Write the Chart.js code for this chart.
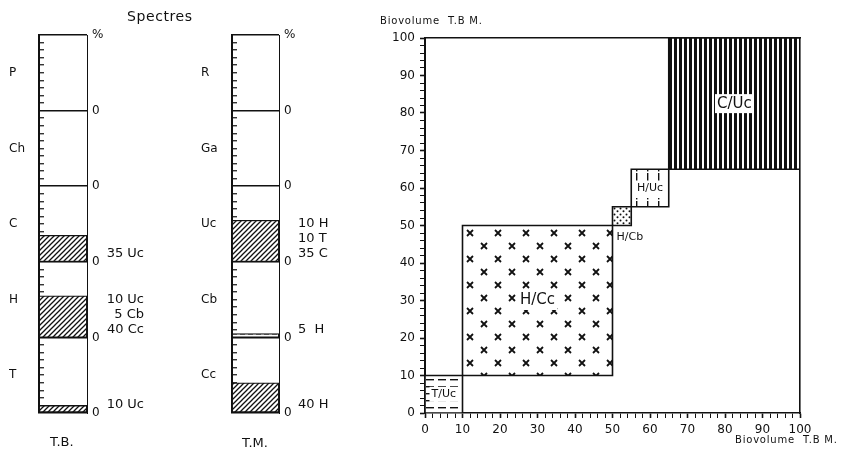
<!DOCTYPE html>
<html>
<head>
<meta charset="utf-8">
<script src="https://cdn.jsdelivr.net/npm/chart.js@4.4.1/dist/chart.umd.min.js"></script>
<style>
  html, body { margin: 0; padding: 0; background: #fff; }
  #wrap { position: relative; width: 841px; height: 462px; overflow: hidden; font-family: "DejaVu Sans", sans-serif; color: #111; }
  #wrap canvas { position: absolute; top: 0; }
  .lbl { position: absolute; white-space: nowrap; line-height: 1; }
</style>
</head>
<body>
<div id="wrap">
  <canvas id="tbChart" width="180" height="462" style="left:0"></canvas>
  <canvas id="tmChart" width="180" height="462" style="left:192px"></canvas>
  <canvas id="bioChart" width="481" height="462" style="left:360px"></canvas>
  <div class="lbl" style="left:127px;top:9px;font-size:14px;letter-spacing:0.6px">Spectres</div>
  <div class="lbl" style="left:50px;top:435px;font-size:13px">T.B.</div>
  <div class="lbl" style="left:242px;top:436px;font-size:13px">T.M.</div>
  <div class="lbl" style="left:380px;top:16px;font-size:10px;letter-spacing:0.8px">Biovolume&nbsp; T.B M.</div>
  <div class="lbl" style="left:735px;top:435px;font-size:10px;letter-spacing:0.8px">Biovolume&nbsp; T.B M.</div>
</div>
<script>
// spectra, sections listed bottom to top, share in % of each section
const tbSections = ['T', 'H', 'C', 'Ch', 'P'];
const tbShare = [10, 55, 35, 0, 0];
const tbNotes = [['10 Uc'], ['10 Uc', '5 Cb', '40 Cc'], ['35 Uc'], [], []];

const tmSections = ['Cc', 'Cb', 'Uc', 'Ga', 'R'];
const tmShare = [40, 5, 55, 0, 0];
const tmNotes = [['40 H'], ['5  H'], ['10 H', '10 T', '35 C'], [], []];

// biovolume cells (x = T.B., y = T.M.)
const cellNames = ['T/Uc', 'H/Cc', 'H/Cb', 'H/Uc', 'C/Uc'];
const tbFrom = [0, 10, 50, 55, 65];
const tbTo = [10, 50, 55, 65, 100];
const tmFrom = [0, 10, 50, 55, 65];
const tmTo = [10, 50, 55, 65, 100];
const axisTicks = [0, 10, 20, 30, 40, 50, 60, 70, 80, 90, 100];

const INK = '#111';

function makePattern(w, h, draw) {
    const c = document.createElement('canvas');
    c.width = w; c.height = h;
    const g = c.getContext('2d');
    g.fillStyle = '#fff';
    g.fillRect(0, 0, w, h);
    g.strokeStyle = INK;
    g.fillStyle = INK;
    draw(g);
    return g.createPattern(c, 'repeat');
}

const hatch = () => makePattern(5, 5, g => {
    g.lineWidth = 1.3;
    g.beginPath();
    g.moveTo(-1, 6); g.lineTo(6, -1);
    g.moveTo(-1, 1); g.lineTo(1, -1);
    g.moveTo(4, 6); g.lineTo(6, 4);
    g.stroke();
});
const dashes = () => makePattern(8, 4, g => {
    g.fillRect(0, 1, 5, 1.5);
});

// spectre columns
const notesPlugin = {
    id: 'notes',
    afterDraw(chart) {
        const opts = chart.options.plugins.notes;
        const { ctx, chartArea } = chart;
        const y = chart.scales.y;
        ctx.save();
        ctx.font = '13px "DejaVu Sans", sans-serif';
        ctx.fillStyle = INK;
        ctx.textBaseline = 'middle';
        ctx.textAlign = opts.align;
        opts.lines.forEach((lines, i) => {
            const base = y.getPixelForValue(i * 100);
            lines.forEach((t, k) => {
                const yy = base - 8 - (lines.length - 1 - k) * 15;
                ctx.fillText(t, chartArea.right + opts.offset, yy);
            });
        });
        ctx.restore();
    }
};

function spectre(id, sections, share, notes, fills, align, offset, leftWidth) {
    const datasets = sections.map((s, i) => ({
        label: s,
        data: [[i * 100, i * 100 + share[i]]],
        backgroundColor: fills[i],
        borderColor: INK,
        borderWidth: 1.3,
        borderSkipped: false,
        grouped: false,
        categoryPercentage: 1,
        barPercentage: 1
    })).filter(d => d.data[0][1] > d.data[0][0]);

    return new Chart(document.getElementById(id), {
        type: 'bar',
        data: { labels: [''], datasets: datasets },
        options: {
            responsive: false,
            animation: false,
            devicePixelRatio: 1,
            layout: { padding: { left: 9, top: 35, right: 0, bottom: 49 } },
            plugins: { legend: { display: false }, tooltip: { enabled: false }, notes: { lines: notes, align: align, offset: offset } },
            scales: {
                x: { display: false },
                y: {
                    min: 0, max: 500, position: 'left',
                    ticks: {
                        stepSize: 10, autoSkip: false, crossAlign: 'far', color: INK,
                        font: { family: 'DejaVu Sans', size: 12 },
                        callback: v => v % 100 === 50 ? sections[Math.floor(v / 100)] : ''
                    },
                    grid: {
                        color: c => c.tick && c.tick.value % 100 === 0 ? INK : 'transparent',
                        lineWidth: 1.5,
                        tickLength: -5,
                        tickWidth: 1.2,
                        tickColor: c => c.tick && c.tick.value % 100 === 0 ? 'transparent' : INK
                    },
                    border: { color: INK, width: 2 },
                    afterFit: s => { s.width = leftWidth; }
                },
                y2: {
                    min: 0, max: 500, position: 'right',
                    ticks: {
                        stepSize: 100, padding: 5, color: INK,
                        font: { family: 'DejaVu Sans', size: 12 },
                        callback: v => v === 500 ? '%' : '0'
                    },
                    grid: { drawOnChartArea: false, drawTicks: false },
                    border: { color: INK, width: 1 },
                    afterFit: s => { s.width = 93; }
                }
            }
        },
        plugins: [notesPlugin]
    });
}

spectre('tbChart', tbSections, tbShare, tbNotes, tbSections.map(() => hatch()), 'right', 57, 30);
spectre('tmChart', tmSections, tmShare, tmNotes, tmSections.map(s => s === 'Cb' ? dashes() : hatch()), 'left', 19, 31);

// biovolume cells
const cellFills = [
    makePattern(12, 7, g => { g.fillRect(1, 3, 8, 1.4); }),
    makePattern(28, 26, g => {
        g.lineWidth = 1.8;
        [[7, 7], [21, 20]].forEach(([cx, cy]) => {
            g.beginPath();
            g.moveTo(cx - 3, cy - 3); g.lineTo(cx + 3, cy + 3);
            g.moveTo(cx + 3, cy - 3); g.lineTo(cx - 3, cy + 3);
            g.stroke();
        });
    }),
    makePattern(6, 6, g => {
        g.beginPath(); g.arc(1.5, 1.5, 1, 0, Math.PI * 2); g.fill();
        g.beginPath(); g.arc(4.5, 4.2, 1, 0, Math.PI * 2); g.fill();
    }),
    makePattern(11, 14, g => {
        g.fillRect(5, 4, 1.4, 8);
        g.fillRect(5, 1, 1.4, 1.4);
    }),
    makePattern(5, 4, g => { g.fillRect(0, 0, 3, 4); })
];

const alignFills = {
    id: 'alignFills',
    beforeDatasetsDraw(chart) {
        const { x, y } = chart.scales;
        cellFills.forEach((p, i) => {
            p.setTransform(new DOMMatrix().translate(Math.round(x.getPixelForValue(tbFrom[i])), Math.round(y.getPixelForValue(tmTo[i]))));
        });
    }
};

const cellLabels = {
    id: 'cellLabels',
    afterDatasetsDraw(chart) {
        const { ctx } = chart;
        const { x, y } = chart.scales;
        ctx.save();
        ctx.textBaseline = 'middle';
        cellNames.forEach((name, i) => {
            const x0 = x.getPixelForValue(tbFrom[i]), x1 = x.getPixelForValue(tbTo[i]);
            const y0 = y.getPixelForValue(tmFrom[i]), y1 = y.getPixelForValue(tmTo[i]);
            const w = x1 - x0;
            const size = w > 100 ? 15 : 11;
            ctx.font = size + 'px "DejaVu Sans", sans-serif';
            ctx.fillStyle = INK;
            if (w < 25) {
                ctx.textAlign = 'left';
                ctx.fillText(name, x0 + 4, y0 + 12);
                return;
            }
            const cx = (x0 + x1) / 2, cy = (y0 + y1) / 2;
            const tw = ctx.measureText(name).width;
            ctx.fillStyle = '#fff';
            ctx.fillRect(cx - tw / 2 - 2, cy - size / 2 - 2, tw + 4, size + 4);
            ctx.fillStyle = INK;
            ctx.textAlign = 'center';
            ctx.fillText(name, cx, cy);
        });
        ctx.restore();
    }
};

new Chart(document.getElementById('bioChart'), {
    type: 'scatter',
    data: {
        datasets: cellNames.map((name, i) => ({
            label: name,
            data: [
                { x: tbFrom[i], y: tmFrom[i] },
                { x: tbTo[i], y: tmFrom[i] },
                { x: tbTo[i], y: tmTo[i] },
                { x: tbFrom[i], y: tmTo[i] },
                { x: tbFrom[i], y: tmFrom[i] }
            ],
            showLine: true,
            fill: 'shape',
            backgroundColor: cellFills[i],
            borderColor: INK,
            borderWidth: 1.6,
            pointRadius: 0,
            tension: 0
        }))
    },
    options: {
        responsive: false,
        animation: false,
        devicePixelRatio: 1,
        layout: { padding: { left: 0, top: 38, right: 41, bottom: 0 } },
        plugins: { legend: { display: false }, tooltip: { enabled: false } },
        scales: {
            x: {
                type: 'linear', min: 0, max: 100, position: 'bottom',
                ticks: {
                    stepSize: 2, autoSkip: false, maxRotation: 0, padding: 5, color: INK,
                    font: { family: 'DejaVu Sans', size: 12 },
                    callback: v => axisTicks.includes(v) ? String(v) : ''
                },
                grid: { drawOnChartArea: false, tickLength: 5, tickColor: INK, tickWidth: c => c.tick && c.tick.value % 10 === 0 ? 1.6 : 1 },
                border: { color: INK, width: 1.6 },
                afterFit: s => { s.height = 49; }
            },
            y: {
                type: 'linear', min: 0, max: 100, position: 'left',
                ticks: {
                    stepSize: 2, autoSkip: false, padding: 5, color: INK,
                    font: { family: 'DejaVu Sans', size: 12 },
                    callback: v => axisTicks.includes(v) ? String(v) : ''
                },
                grid: { drawOnChartArea: false, tickLength: 5, tickColor: INK, tickWidth: c => c.tick && c.tick.value % 10 === 0 ? 1.6 : 1 },
                border: { color: INK, width: 2 },
                afterFit: s => { s.width = 65; }
            },
            x2: {
                type: 'linear', min: 0, max: 100, position: 'top',
                ticks: { display: false },
                grid: { drawOnChartArea: false, drawTicks: false },
                border: { color: INK, width: 1.6 },
                afterFit: s => { s.height = 0; }
            },
            y2: {
                type: 'linear', min: 0, max: 100, position: 'right',
                ticks: { display: false },
                grid: { drawOnChartArea: false, drawTicks: false },
                border: { color: INK, width: 1.6 },
                afterFit: s => { s.width = 0; }
            }
        }
    },
    plugins: [alignFills, cellLabels]
});
</script>
</body>
</html>
